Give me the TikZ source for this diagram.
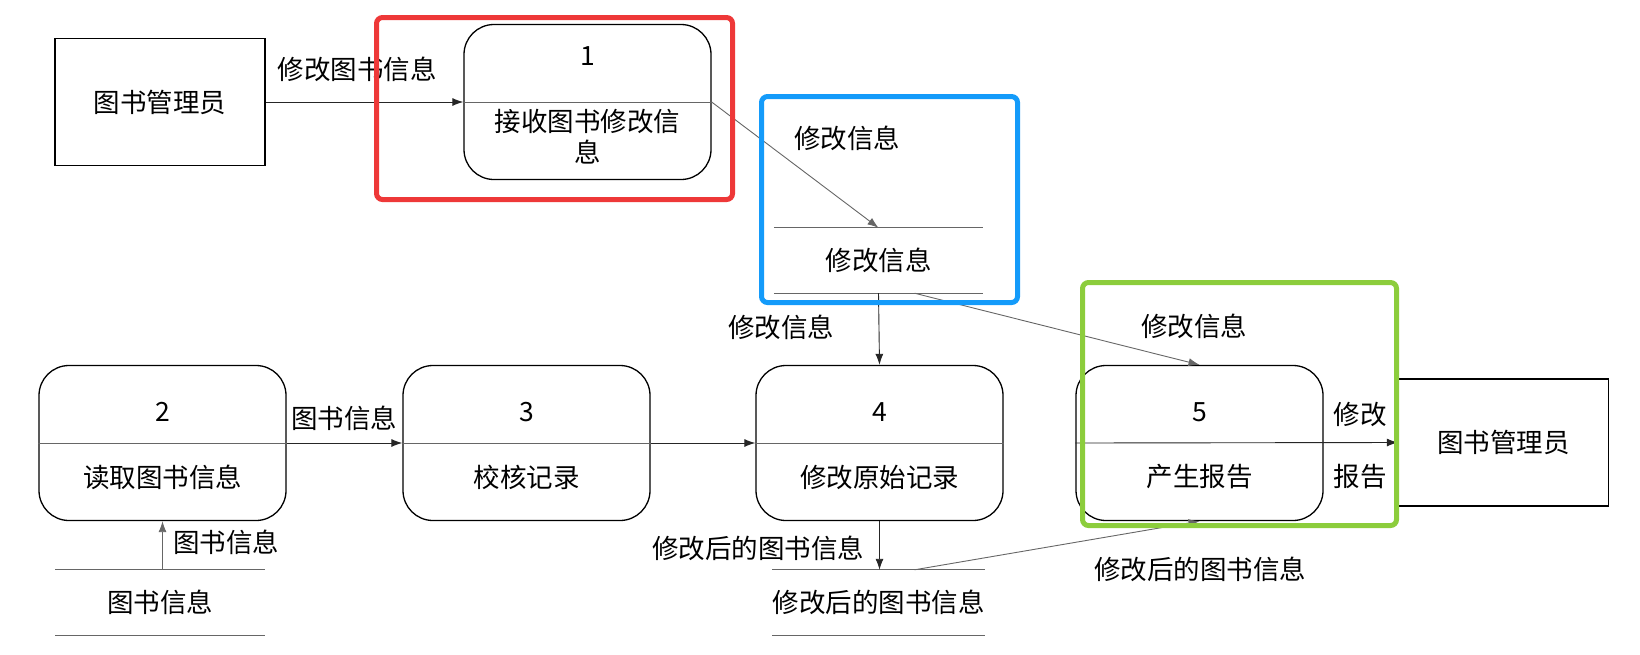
\documentclass[tikz,border=0pt]{standalone}
\usepackage{fontspec}
\setmainfont{Noto Sans CJK SC}
\usetikzlibrary{arrows.meta,calc}
\definecolor{hlred}{RGB}{238,56,56}
\definecolor{hlblue}{RGB}{20,155,250}
\definecolor{hlgreen}{RGB}{140,205,60}
\begin{document}
\begin{tikzpicture}[x=1pt,y=-1pt,
  every node/.style={font=\fontsize{26.5}{31}\selectfont, inner sep=0pt},
  ent/.style={draw, line width=1.3pt, minimum width=210pt, minimum height=127pt},
  proc/.style={draw, line width=1.3pt, rounded corners=30pt, minimum width=247pt, minimum height=155pt},
  store/.style={minimum width=209pt, minimum height=65pt},
  arr/.style={-{Latex[length=11pt,width=8pt]}, line width=0.9pt, draw=black!85},
  ln/.style={line width=0.9pt, draw=black!60},
  hl/.style={line width=5pt, rounded corners=6pt}]
\useasboundingbox (0,0) rectangle (1640,654);

% external entities
\node[ent] (A) at (160,102) {图书管理员};
\node[ent] (B) at (1503.5,442.5) {图书管理员};

% processes
\node[proc] (P1) at (587.5,102) {};
\node (P1n) at (587.5,56) {1};
\node[align=center] (P1t) at (587.5,137) {接收图书修改信\\息};
\draw[ln] (P1.west) -- (P1.east);

\node[proc] (P2) at (162.5,443) {};
\node (P2n) at (162.5,412) {2};
\node (P2t) at (162.5,477) {读取图书信息};
\draw[ln] (P2.west) -- (P2.east);

\node[proc] (P3) at (526.5,443) {};
\node (P3n) at (526.5,412) {3};
\node (P3t) at (526.5,477) {校核记录};
\draw[ln] (P3.west) -- (P3.east);

\node[proc] (P4) at (879.5,443) {};
\node (P4n) at (879.5,412) {4};
\node (P4t) at (879.5,477) {修改原始记录};
\draw[ln] (P4.west) -- (P4.east);

\node[proc] (P5) at (1199.5,443) {};
\node (P5n) at (1199.5,412) {5};
\node (P5t) at (1199.5,477) {产生报告};

% data stores
\node[store] (S1) at (878.5,260.5) {修改信息};
\draw[ln] (S1.north west) -- (S1.north east);
\draw[ln] (S1.south west) -- (S1.south east);
\node[store] (S2) at (160,602.5) {图书信息};
\draw[ln] (S2.north west) -- (S2.north east);
\draw[ln] (S2.south west) -- (S2.south east);
\node[store] (S3) at (878.5,602.5) {修改后的图书信息};
\draw[ln] (S3.north west) -- (S3.north east);
\draw[ln] (S3.south west) -- (S3.south east);

\coordinate (S1o) at ($(S1.south)+(36,0)$);
\coordinate (S3o) at ($(S3.north)+(36,0)$);

% flows
\draw[arr] (A.east) -- (P1.west);
\node (L1) at (357,69) {修改图书信息};
\draw[arr, draw=black!60] (P1.east) -- (S1.north);
\node (L2) at (847,138) {修改信息};
\draw[arr] (S1.south) -- (P4.north);
\node (L3) at (781,327) {修改信息};
\draw[arr, draw=black!60] (S1o) -- (P5.north);
\node (L4) at (1194,326) {修改信息};
\draw[arr] (P2.east) -- (P3.west);
\node (L5) at (344,418) {图书信息};
\draw[arr] (P3.east) -- (P4.west);
\draw[arr] (P5.west) -- (B.west);
\node (L6) at (1360,414) {修改};
\node (L7) at (1360,477) {报告};
\draw[arr, draw=black!60] (S2.north -| P2.south) -- (P2.south);
\node (L8) at (226,542) {图书信息};
\draw[arr] (P4.south) -- (S3.north -| P4.south);
\node (L9) at (758,548) {修改后的图书信息};
\draw[arr, draw=black!60] (S3o) -- (P5.south);
\node (L10) at (1200,569) {修改后的图书信息};

% highlight frames
\draw[hl, draw=hlred] (376.5,17.5) rectangle (732.5,199.5);
\draw[hl, draw=hlblue] (761.5,96.5) rectangle (1017.5,302.5);
\draw[hl, draw=hlgreen] (1082.5,282.5) rectangle (1396.5,525.5);
\end{tikzpicture}
\end{document}
